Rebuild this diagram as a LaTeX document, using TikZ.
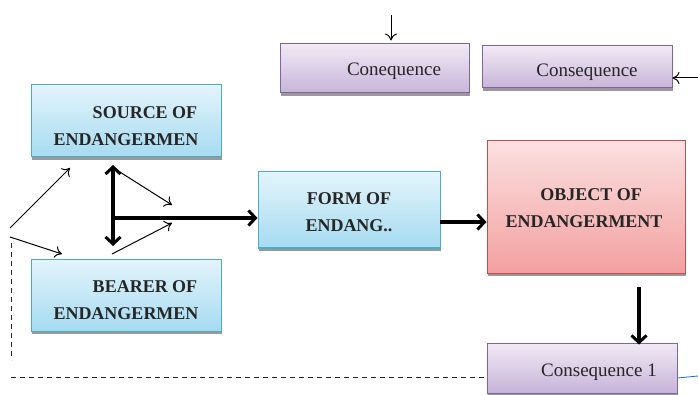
\documentclass[tikz,border=0pt]{standalone}
\usepackage{fontspec}
\setmainfont{Liberation Serif}
\usetikzlibrary{arrows.meta,shadows}
\definecolor{bluetop}{HTML}{E3F4FB}
\definecolor{bluebot}{HTML}{A6DBF1}
\definecolor{blueline}{HTML}{4BACC6}
\definecolor{purtop}{HTML}{F1EAF5}
\definecolor{purbot}{HTML}{C7B4D8}
\definecolor{purline}{HTML}{8064A2}
\definecolor{redtop}{HTML}{FBE0E0}
\definecolor{redbot}{HTML}{F3A0A0}
\definecolor{redline}{HTML}{C0504D}
\definecolor{txt}{HTML}{262626}
\tikzset{
  boxbase/.style={draw, line width=1pt, inner sep=0pt,
    drop shadow={shadow xshift=0.8pt, shadow yshift=-3pt, fill=black!40, opacity=1}},
  bluebox/.style={boxbase, draw=blueline, top color=bluetop, bottom color=bluebot},
  purbox/.style={boxbase, draw=purline, top color=purtop, bottom color=purbot},
  redbox/.style={boxbase, draw=redline, top color=redtop, bottom color=redbot},
  boldtxt/.style={text=txt, font=\fontsize{18}{27}\selectfont\bfseries, align=center, inner sep=0pt},
  regtxt/.style={text=txt, font=\fontsize{19}{24}\selectfont, inner sep=0pt},
  thinarrow/.style={-{To[length=7pt,width=12pt]}, line width=1pt},
  thickarrow/.style={-{Straight Barb[length=7pt,width=15pt,line width=3pt]}, line width=3.4pt},
  dblthick/.style={{Straight Barb[length=7pt,width=15pt,line width=3pt]}-{Straight Barb[length=7pt,width=15pt,line width=3pt]}, line width=3.4pt},
  dashline/.style={dash pattern=on 5pt off 4pt, line width=1pt, draw=black!85},
}
\begin{document}
\begin{tikzpicture}[x=1pt,y=-1pt]
\useasboundingbox (0,0) rectangle (698,395);
% boxes
\node[purbox, minimum width=189pt, minimum height=49pt] (conq) at (374.5,68.5) {};
\node[purbox, minimum width=190pt, minimum height=42pt] (cons) at (577,67) {};
\node[bluebox, minimum width=190pt, minimum height=72pt] (source) at (126,121) {};
\node[bluebox, minimum width=190pt, minimum height=72pt] (bearer) at (126,295) {};
\node[bluebox, minimum width=182pt, minimum height=76pt] (form) at (349,210) {};
\node[redbox, minimum width=198pt, minimum height=132pt] (object) at (586,207) {};
\node[purbox, minimum width=190pt, minimum height=50pt] (cons1) at (582,368) {};
% texts
\node[regtxt] (conqt) at (394,71) {Conequence};
\node[regtxt] (const) at (587,72) {Consequence};
\node[regtxt] (cons1t) at (599,372) {Consequence 1};
\node[boldtxt] (sourcet) at (126,126) {\hspace*{38pt}SOURCE OF\\ENDANGERMEN};
\node[boldtxt] (bearert) at (126,300) {\hspace*{38pt}BEARER OF\\ENDANGERMEN};
\node[boldtxt] (formt) at (349,212) {FORM OF\\ENDANG..};
\node[boldtxt] (objectt) at (584,208) {\hspace*{14pt}OBJECT OF\\ENDANGERMENT};
% coordinates
\coordinate (topin) at (391,15);
\coordinate (rightin) at (698,78);
\coordinate (fa1) at (10,228);
\coordinate (fa2) at (70,168);
\coordinate (fb1) at (10,237);
\coordinate (fb2) at (62,254);
\coordinate (ga1) at (112,167);
\coordinate (ga2) at (172,205);
\coordinate (gb1) at (112,254);
\coordinate (gb2) at (172,223);
\coordinate (vtop) at (113,165);
\coordinate (vbot) at (113,246);
\coordinate (hj) at (113,218);
\coordinate (fo) at (440,222);
\coordinate (od) at (639,287);
\coordinate (dv1) at (11,243);
\coordinate (dv2) at (11,360);
\coordinate (dh1) at (11,377);
\coordinate (bl2) at (698,376);
% connectors
\draw[thinarrow] (topin) -- (conq.north -| topin) [shorten >=3pt];
\draw[thinarrow] (rightin) -- (cons.east |- rightin);
\draw[thinarrow] (fa1) -- (fa2);
\draw[thinarrow] (fb1) -- (fb2);
\draw[thinarrow] (ga1) -- (ga2);
\draw[thinarrow] (gb1) -- (gb2);
\draw[dblthick] (vtop) -- (vbot);
\draw[thickarrow] (hj) -- (form.west |- hj);
\draw[thickarrow] (fo) -- (object.west |- fo);
\draw[thickarrow] (od) -- ([yshift=-2pt]cons1.north -| od);
\draw[dashline] (dv1) -- (dv2);
\draw[dashline] (dh1) -- (cons1.west |- dh1);
\draw[line width=0.8pt, draw=blue!60!cyan] (cons1.east |- 0,378) -- (bl2);
\end{tikzpicture}
\end{document}
